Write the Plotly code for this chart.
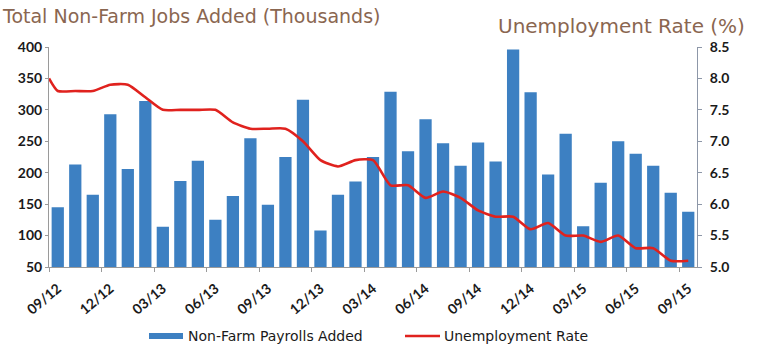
import plotly.graph_objects as go

# Monthly categories, Sep 2012 - Sep 2015
months = ["09/12", "10/12", "11/12", "12/12", "01/13", "02/13", "03/13", "04/13",
          "05/13", "06/13", "07/13", "08/13", "09/13", "10/13", "11/13", "12/13",
          "01/14", "02/14", "03/14", "04/14", "05/14", "06/14", "07/14", "08/14",
          "09/14", "10/14", "11/14", "12/14", "01/15", "02/15", "03/15", "04/15",
          "05/15", "06/15", "07/15", "08/15", "09/15"]

# Non-farm payrolls added (thousands)
payrolls = [145, 213, 165, 293, 206, 314, 114, 187, 219, 125, 163, 255, 149,
            225, 316, 108, 165, 186, 225, 329, 234, 285, 247, 211, 248, 218,
            396, 328, 197, 262, 115, 184, 250, 230, 211, 168, 138]

# Unemployment rate (%): prior-month value at the axis edge, then one per month
unemployment = [8.0, 7.8, 7.8, 7.8, 7.9, 7.9, 7.7, 7.5, 7.5, 7.5, 7.5, 7.3, 7.2,
                7.2, 7.2, 7.0, 6.7, 6.6, 6.7, 6.7, 6.3, 6.3, 6.1, 6.2, 6.1, 5.9,
                5.8, 5.8, 5.6, 5.7, 5.5, 5.5, 5.4, 5.5, 5.3, 5.3, 5.1, 5.1]

left_ticks = [50, 100, 150, 200, 250, 300, 350, 400]
right_ticks = [5.0, 5.5, 6.0, 6.5, 7.0, 7.5, 8.0, 8.5]

BAR = "#3d80c2"
LINE = "#e0221e"
TITLE = "#8a6650"
AXIS = "#9a9a9a"

idx = list(range(len(months)))
x_range = [-0.5, len(months) - 0.5]
line_x = [x_range[0]] + idx
label_idx = idx[::3]

fig = go.Figure()
fig.add_trace(go.Bar(
    x=idx, y=payrolls, marker=dict(color=BAR, line=dict(width=0)),
    name="Non-Farm Payrolls Added", showlegend=False,
))
fig.add_trace(go.Scatter(
    x=line_x, y=unemployment, yaxis="y2", mode="lines",
    line=dict(color=LINE, width=2.6, shape="spline", smoothing=0.6),
    name="Unemployment Rate", showlegend=False,
))

tick_font = dict(family="Lato", size=14, color="#1a1a1a", weight="bold")

fig.update_layout(
    width=761, height=350,
    margin=dict(l=49, r=64, t=47, b=83),
    paper_bgcolor="white", plot_bgcolor="white",
    bargap=0.3,
    xaxis=dict(
        range=x_range, tickmode="array", tickvals=label_idx,
        ticktext=[months[i] for i in label_idx], tickangle=-40,
        ticks="", showgrid=False, zeroline=False,
        showline=True, linecolor=AXIS, linewidth=1,
        ticklabelstandoff=7,
        tickfont=dict(family="Lato", size=14, color="#1a1a1a", weight="bold"),
        minor=dict(tick0=2.5, dtick=3, ticks="outside", ticklen=4,
                   tickcolor=AXIS, showgrid=False),
    ),
    yaxis=dict(
        range=[left_ticks[0], left_ticks[-1]], tickmode="array",
        tickvals=left_ticks, showgrid=False, zeroline=False,
        showline=True, linecolor=AXIS, linewidth=1,
        ticks="outside", ticklen=3, tickcolor=AXIS,
        tickfont=tick_font,
    ),
    yaxis2=dict(
        range=[right_ticks[0], right_ticks[-1]], tickmode="array",
        tickvals=right_ticks, tickformat=".1f", overlaying="y", side="right",
        showgrid=False, zeroline=False,
        showline=True, linecolor="#8d97a8", linewidth=1,
        ticks="outside", ticklen=4, tickcolor="#8d97a8",
        ticklabelstandoff=5,
        tickfont=tick_font,
    ),
    font=dict(family="DejaVu Sans"),
)

# Axis titles above the plot
fig.add_annotation(
    text="Total Non-Farm Jobs Added (Thousands)", xref="paper", yref="paper",
    x=-49 / 648, y=1 + 31 / 220, xanchor="left", yanchor="middle",
    showarrow=False, font=dict(family="DejaVu Sans", size=19, color=TITLE),
)
fig.add_annotation(
    text="Unemployment Rate (%)", xref="paper", yref="paper",
    x=1 + 50 / 648, y=1 + 21 / 220, xanchor="right", yanchor="middle",
    showarrow=False, font=dict(family="DejaVu Sans", size=20, color=TITLE),
)

# Legend drawn below the axis
leg_y = -69 / 220
fig.add_shape(type="rect", xref="paper", yref="paper",
              x0=(149 - 49) / 648, x1=(183 - 49) / 648,
              y0=leg_y - 3 / 220, y1=leg_y + 3 / 220,
              fillcolor=BAR, line=dict(width=0))
fig.add_annotation(
    text="Non-Farm Payrolls Added", xref="paper", yref="paper",
    x=(186 - 49) / 648, y=leg_y, xanchor="left", yanchor="middle",
    showarrow=False, font=dict(family="DejaVu Sans", size=14, color="#1a1a1a"),
)
fig.add_shape(type="line", xref="paper", yref="paper",
              x0=(405 - 49) / 648, x1=(440 - 49) / 648, y0=leg_y, y1=leg_y,
              line=dict(color=LINE, width=2.6))
fig.add_annotation(
    text="Unemployment Rate", xref="paper", yref="paper",
    x=(442 - 49) / 648, y=leg_y, xanchor="left", yanchor="middle",
    showarrow=False, font=dict(family="DejaVu Sans", size=14, color="#1a1a1a"),
)

fig.write_html("out.html")
